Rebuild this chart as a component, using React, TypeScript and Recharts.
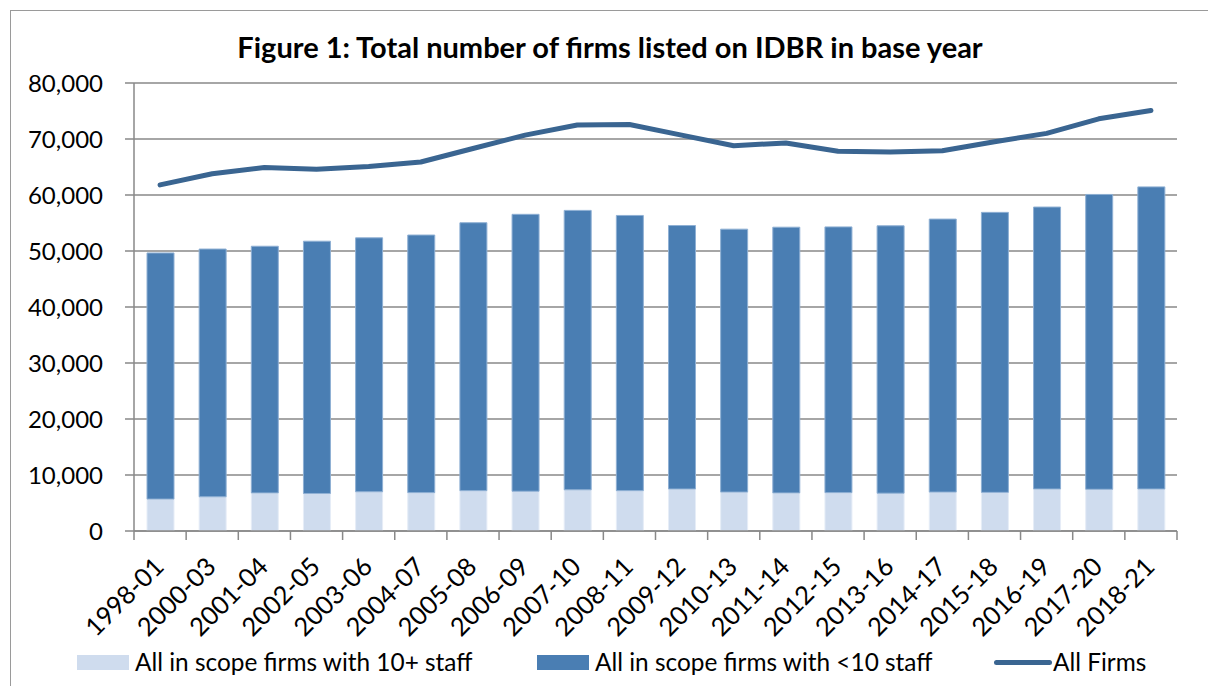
import React from "react";
import {
  ComposedChart,
  Bar,
  Line,
  XAxis,
  YAxis,
  CartesianGrid,
} from "recharts";

const categories = [
  "1998-01", "2000-03", "2001-04", "2002-05", "2003-06", "2004-07", "2005-08",
  "2006-09", "2007-10", "2008-11", "2009-12", "2010-13", "2011-14", "2012-15",
  "2013-16", "2014-17", "2015-18", "2016-19", "2017-20", "2018-21",
];

// All in scope firms with 10+ staff
const firms10Plus = [
  5700, 6100, 6800, 6700, 7000, 6850, 7200, 7100, 7350, 7200,
  7500, 6950, 6800, 6850, 6750, 6950, 6900, 7500, 7450, 7500,
];

// All in scope firms with <10 staff
const firmsUnder10 = [
  43950, 44250, 44050, 45050, 45350, 46000, 47850, 49450, 49900, 49150,
  47050, 46950, 47450, 47450, 47750, 48750, 50000, 50350, 52650, 53950,
];

// All Firms
const allFirms = [
  61800, 63800, 64900, 64600, 65100, 65900, 68300, 70700, 72500, 72600,
  70700, 68800, 69300, 67800, 67700, 67900, 69500, 71000, 73600, 75100,
];

const yTicks = [0, 10000, 20000, 30000, 40000, 50000, 60000, 70000, 80000];

const seriesNames = [
  "All in scope firms with 10+ staff",
  "All in scope firms with <10 staff",
  "All Firms",
];

const titleText = "Figure 1: Total number of firms listed on IDBR in base year";

const COLOR_LIGHT = "#cfdcee";
const COLOR_DARK = "#4a7eb3";
const COLOR_LINE = "#3a6591";
const GRID = "#898989";
const FONT = "Lato, 'Open Sans', sans-serif";

const data = categories.map((c, i) => ({
  category: c,
  plus10: firms10Plus[i],
  under10: firmsUnder10[i],
  all: allFirms[i],
}));

const fmt = (v: number) => v.toLocaleString("en-US");

const XTick = (props: any) => {
  const { x, y, payload, index, visibleTicksCount } = props;
  const off = payload && typeof payload.offset === "number" && payload.offset > 0 ? payload.offset : 26;
  const isLast = index === (visibleTicksCount ?? categories.length) - 1;
  const tx = x - 1;
  const ty = y + 31;
  return (
    <g>
      <line x1={x - off} y1={y} x2={x - off} y2={y + 9} stroke={GRID} strokeWidth={1.5} />
      {isLast && (
        <line x1={x + off} y1={y} x2={x + off} y2={y + 9} stroke={GRID} strokeWidth={1.5} />
      )}
      <text
        x={tx}
        y={ty}
        dy="0.35em"
        textAnchor="end"
        transform={`rotate(-45 ${tx} ${ty})`}
        fontSize={25.5}
        fontFamily={FONT}
        fill="#000"
      >
        {payload.value}
      </text>
    </g>
  );
};

const legendText: React.CSSProperties = {
  position: "absolute",
  top: 647,
  fontSize: 24.4,
  lineHeight: "30px",
  color: "#000",
  whiteSpace: "nowrap",
};

export default function App() {
  return (
    <div
      style={{
        position: "fixed",
        left: 0,
        top: 0,
        width: 1208,
        height: 686,
        overflow: "hidden",
        background: "#fff",
        fontFamily: FONT,
      }}
    >
      <div
        style={{
          position: "absolute",
          left: 10,
          top: 10,
          width: 1300,
          height: 800,
          border: "1px solid #9a9a9a",
        }}
      />
      <div
        style={{
          position: "absolute",
          left: 0,
          width: 1220,
          top: 28,
          textAlign: "center",
          fontWeight: 700,
          fontSize: 29,
          lineHeight: "38px",
          color: "#000",
          whiteSpace: "nowrap",
        }}
      >
        {titleText}
      </div>
      <div style={{ position: "absolute", left: 0, top: 0 }}>
        <ComposedChart
          width={1208}
          height={686}
          data={data}
          margin={{ top: 83, right: 31, bottom: 55, left: 0 }}
          barSize={27}
        >
          <CartesianGrid vertical={false} stroke={GRID} strokeWidth={1.5} />
          <XAxis
            dataKey="category"
            height={100}
            interval={0}
            tickLine={false}
            tickSize={0}
            tickMargin={0}
            axisLine={{ stroke: GRID, strokeWidth: 1.5 }}
            tick={<XTick />}
          />
          <YAxis
            width={134}
            domain={[0, 80000]}
            ticks={yTicks}
            tickFormatter={fmt}
            tickSize={9}
            tickMargin={22}
            tickLine={{ stroke: GRID, strokeWidth: 1.5 }}
            axisLine={{ stroke: GRID, strokeWidth: 1.5 }}
            tick={{ fontSize: 24, fill: "#000", fontFamily: FONT }}
            allowDataOverflow
          />
          <Bar
            dataKey="plus10"
            name={seriesNames[0]}
            stackId="a"
            fill={COLOR_LIGHT}
            stroke="#e6edf7"
            strokeWidth={1}
            isAnimationActive={false}
          />
          <Bar
            dataKey="under10"
            name={seriesNames[1]}
            stackId="a"
            fill={COLOR_DARK}
            stroke="#8fb0d4"
            strokeWidth={1}
            isAnimationActive={false}
          />
          <Line
            dataKey="all"
            name={seriesNames[2]}
            type="linear"
            stroke={COLOR_LINE}
            strokeWidth={5}
            strokeLinecap="round"
            strokeLinejoin="round"
            dot={false}
            activeDot={false}
            isAnimationActive={false}
          />
        </ComposedChart>
      </div>
      {/* Legend */}
      <div style={{ position: "absolute", left: 77, top: 655, width: 52, height: 15, background: COLOR_LIGHT }} />
      <div style={{ ...legendText, left: 135 }}>{seriesNames[0]}</div>
      <div style={{ position: "absolute", left: 537, top: 655, width: 52, height: 15, background: COLOR_DARK }} />
      <div style={{ ...legendText, left: 595 }}>{seriesNames[1]}</div>
      <div style={{ position: "absolute", left: 994, top: 660, width: 58, height: 5, borderRadius: 3, background: COLOR_LINE }} />
      <div style={{ ...legendText, left: 1053 }}>{seriesNames[2]}</div>
    </div>
  );
}
